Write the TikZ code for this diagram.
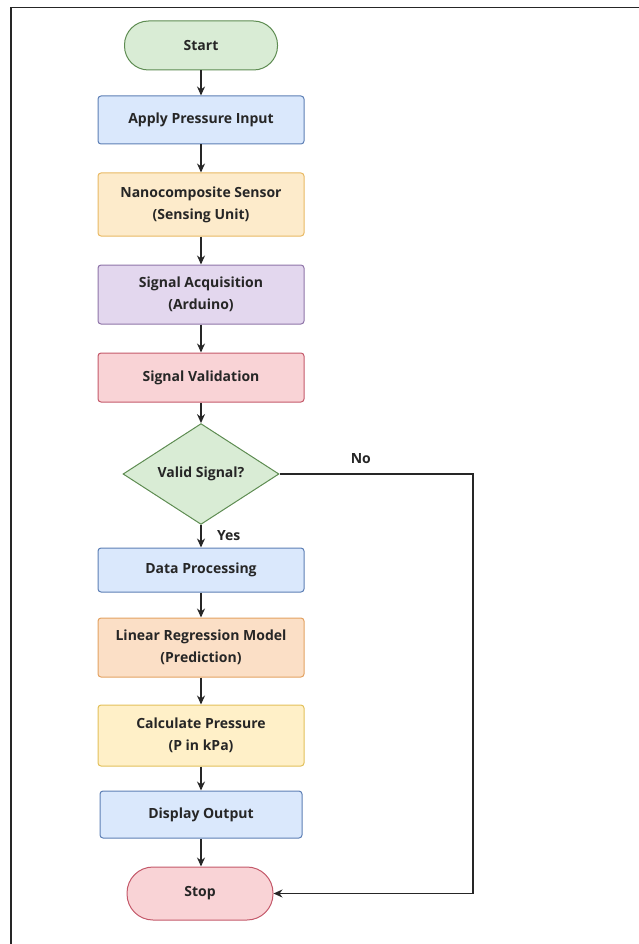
\documentclass[tikz,border=0pt]{standalone}
\usepackage{fontspec}
\setmainfont{Open Sans}
\usetikzlibrary{arrows.meta,shapes.geometric}

\definecolor{greenfill}{HTML}{D9ECD5}
\definecolor{greenline}{HTML}{5E8C52}
\definecolor{bluefill}{HTML}{DAE8FC}
\definecolor{blueline}{HTML}{5D7FB5}
\definecolor{sandfill}{HTML}{FDEBCB}
\definecolor{sandline}{HTML}{E9B963}
\definecolor{purplefill}{HTML}{E3D7EE}
\definecolor{purpleline}{HTML}{8E74A8}
\definecolor{redfill}{HTML}{F9D3D6}
\definecolor{redline}{HTML}{C4596A}
\definecolor{orangefill}{HTML}{FBDFC6}
\definecolor{orangeline}{HTML}{E3A262}
\definecolor{yellowfill}{HTML}{FFF0C8}
\definecolor{yellowline}{HTML}{E2C05A}
\definecolor{inktext}{HTML}{262626}

\tikzset{
  stepbox/.style={draw, rounded corners=3pt, line width=1pt, align=center, text=inktext,
    minimum width=206pt, font=\fontsize{14}{22}\selectfont\bfseries},
  term/.style={stepbox, rounded corners=24pt, minimum width=153pt},
  flow/.style={line width=1.4pt, draw=black!85, -{Stealth[length=9pt,width=8pt]}},
  tag/.style={text=inktext, font=\fontsize{14}{16}\selectfont\bfseries}
}

\begin{document}
\begin{tikzpicture}[x=1pt, y=-1pt]
\useasboundingbox (0,0) rectangle (639,944);
\draw[line width=1.8pt, black!85] (11,944) -- (11,7.5) -- (639,7.5);

      \begin{scope}[every node/.style={stepbox}]
        \node[term, fill=greenfill, draw=greenline, minimum height=49pt] (start) at (201,45.5) {Start};
        \node[fill=bluefill, draw=blueline, minimum height=48pt] (apply) at (201,120) {Apply Pressure Input};
        \node[fill=sandfill, draw=sandline, minimum height=63pt] (sensor) at (201,204.5) {Nanocomposite Sensor\\(Sensing Unit)};
        \node[fill=purplefill, draw=purpleline, minimum height=59pt] (acq) at (201,294.5) {Signal Acquisition\\(Arduino)};
        \node[fill=redfill, draw=redline, minimum height=49pt] (valid) at (201,377.5) {Signal Validation};
        \node[diamond, rounded corners=0pt, fill=greenfill, draw=greenline, minimum width=156pt, minimum height=86pt, inner sep=0pt] (dec) at (201,474) {Valid Signal?};
        \node[fill=bluefill, draw=blueline, minimum height=44pt] (proc) at (201,570) {Data Processing};
        \node[fill=orangefill, draw=orangeline, minimum height=59pt] (model) at (201,647.5) {Linear Regression Model\\(Prediction)};
        \node[fill=yellowfill, draw=yellowline, minimum height=61pt] (calc) at (201,735.5) {Calculate Pressure\\(P in kPa)};
        \node[fill=bluefill, draw=blueline, minimum width=202pt, minimum height=47pt] (disp) at (201,814.5) {Display Output};
        \node[term, fill=redfill, draw=redline, minimum width=146pt, minimum height=53pt, rounded corners=26pt] (stop) at (200,893.5) {Stop};
      \end{scope}

      \coordinate (nocorner) at (473,474);

      \begin{scope}[every path/.style={flow}]
        \draw (start) -- (apply);
        \draw (apply) -- (sensor);
        \draw (sensor) -- (acq);
        \draw (acq) -- (valid);
        \draw (valid) -- (dec);
        \draw (dec) -- node[tag, right=12pt, pos=.45] {Yes} (proc);
        \draw (proc) -- (model);
        \draw (model) -- (calc);
        \draw (calc) -- (disp);
        \draw (disp.south) -- (disp.south |- stop.north);
        \draw (dec.east) -- node[tag, above=6pt, pos=.42] {No} (nocorner) |- (stop.east);
      \end{scope}

    \end{tikzpicture}
\end{document}
